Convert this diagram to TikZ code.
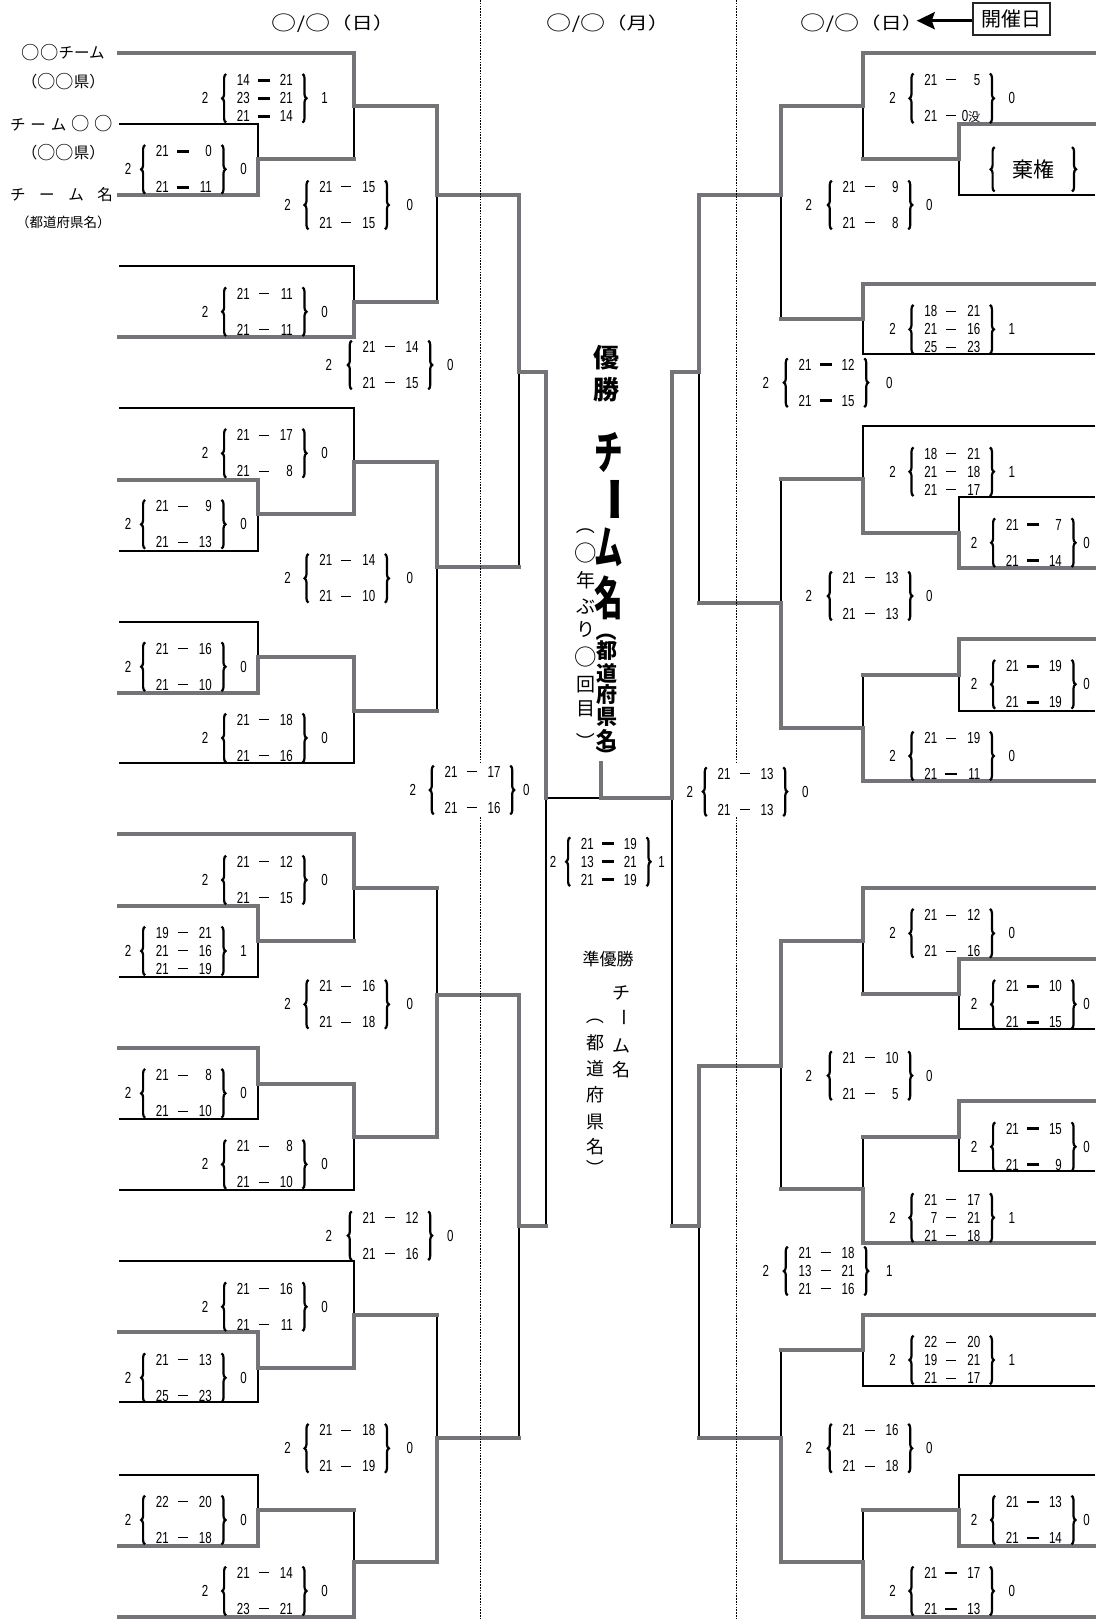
\documentclass[tikz,border=0pt]{standalone}
\usepackage{fontspec}
\usepackage{graphicx}
\newfontfamily\jp{Noto Sans CJK JP}
\newfontfamily\numf[FakeStretch=0.72]{Liberation Sans}
\usetikzlibrary{decorations.pathreplacing,arrows.meta}
\definecolor{lgray}{RGB}{116,116,120}
\newcommand\dthin{\rule[5.2pt]{10pt}{0.85pt}}
\newcommand\dthick{\rule[4.3pt]{12pt}{2.6pt}}
\newcommand\bc{\raisebox{-0.06em}{\scalebox{1.18}{○}}}
\newcommand\Rw[3]{\makebox[14pt][r]{#1}\hspace{9pt}\makebox[10pt]{#2}\hspace{10pt}\makebox[14pt][r]{#3}}
\newcommand\Two[6]{\Rw{#1}{#2}{#3}\\\Rw{}{}{}\\\Rw{#4}{#5}{#6}}
\newcommand\Three[9]{\Rw{#1}{#2}{#3}\\\Rw{#4}{#5}{#6}\\\Rw{#7}{#8}{#9}}
\newcommand\vlp{\rotatebox[origin=c]{-90}{（}}
\newcommand\vrp{\rotatebox[origin=c]{-90}{）}}
\newcommand\vbar{\rotatebox[origin=c]{-90}{ー}}
\tikzset{
  gl/.style={draw=lgray, line width=4.2pt, line join=miter, line cap=rect},
  bl/.style={draw=black, line width=1.9pt, line join=miter},
  dotl/.style={draw=black, line width=0.9pt, dash pattern=on 1.6pt off 1.2pt},
  rowsbox/.style={align=center, inner xsep=9.5pt, inner ysep=0.5pt, font=\numf\fontsize{16}{18}\selectfont},
  sidenum/.style={inner sep=0pt, font=\numf\fontsize{16}{16}\selectfont},
  brc/.style={draw=black, line width=2.2pt, decorate, decoration={brace, amplitude=4pt}},
  kkbox/.style={minimum width=77pt, minimum height=44pt, inner sep=0pt, font=\jp\fontsize{21}{21}\selectfont},
  hdr/.style={inner sep=0pt, font=\jp\fontsize{17}{17}\selectfont},
  tname/.style={inner sep=0pt, font=\jp\fontsize{15.5}{15.5}\selectfont},
  vbig/.style={inner sep=0pt, font=\jp\bfseries\fontsize{46}{46}\selectfont},
  vwin/.style={inner sep=0pt, font=\jp\bfseries\fontsize{26}{32}\selectfont, align=center},
  vmid/.style={inner sep=0pt, font=\jp\bfseries\fontsize{21}{21}\selectfont},
  vsm/.style={inner sep=0pt, font=\jp\fontsize{19}{19}\selectfont},
  vru/.style={inner sep=0pt, font=\jp\fontsize{18}{18}\selectfont},
  datebox/.style={draw=black!85, line width=1.8pt, minimum width=76.7pt, minimum height=32.3pt, inner sep=0pt, font=\jp\fontsize{20}{20}\selectfont},
  arr/.style={draw=black, line width=3.5pt, -{Stealth[length=18pt,width=17pt,inset=3pt]}}
}
\newcommand\scorelbl[7]{%
  \node[rowsbox] (#1) at (#2) {#4};
  \draw[brc] (#1.south west) -- (#1.north west);
  \draw[brc] (#1.north east) -- (#1.south east);
  \node[sidenum] (#1l) at ([xshift=-#6pt]#1.west) {#3};
  \node[sidenum] (#1r) at ([xshift=#7pt]#1.east) {#5};
}
\begin{document}
\begin{tikzpicture}[x=1pt,y=-1pt]
\fill[white] (0,0) rectangle (1095,1619);
\useasboundingbox (0,0) rectangle (1095,1619);

% ---------- black (losing) segments, left ----------
\draw[bl] (354,159) -- (354,106);
\draw[bl] (119,124) -- (258,124) -- (258,159);
\draw[bl] (437,302) -- (437,195);
\draw[bl] (119,266) -- (354,266) -- (354,302);
\draw[bl] (519,567) -- (519,372);
\draw[bl] (119,408) -- (354,408) -- (354,462);
\draw[bl] (119,551) -- (258,551) -- (258,514);
\draw[bl] (437,710.7) -- (437,567);
\draw[bl] (119,622) -- (258,622) -- (258,656.7);
\draw[bl] (119,763) -- (354,763) -- (354,710.7);
\draw[bl] (546,798) -- (601,798);
\draw[bl] (437,887.7) -- (437,995);
\draw[bl] (354,940.7) -- (354,887.7);
\draw[bl] (119,976.7) -- (258,976.7) -- (258,940.7);
\draw[bl] (546,1226) -- (546,798);
\draw[bl] (119,1119) -- (258,1119) -- (258,1084);
\draw[bl] (119,1190) -- (354,1190) -- (354,1136.7);
\draw[bl] (437,1315) -- (437,1438);
\draw[bl] (119,1261) -- (354,1261) -- (354,1315);
\draw[bl] (119,1402) -- (258,1402) -- (258,1367.7);
\draw[bl] (354,1510) -- (354,1562.3);
\draw[bl] (119,1475) -- (258,1475) -- (258,1510);
\draw[bl] (519,1438) -- (519,1226);
% ---------- black (losing) segments, right ----------
\draw[bl] (862.7,159.3) -- (862.7,106);
\draw[bl] (1095,195) -- (959.3,195) -- (959.3,159.3);
\draw[bl] (780.7,319.3) -- (780.7,195);
\draw[bl] (1095,354.3) -- (862.7,354.3) -- (862.7,319.3);
\draw[bl] (1095,426) -- (862.7,426) -- (862.7,479.3);
\draw[bl] (1095,496.7) -- (959.3,496.7) -- (959.3,532.7);
\draw[bl] (780.7,479.3) -- (780.7,603.3);
\draw[bl] (862.7,675) -- (862.7,727.7);
\draw[bl] (1095,711) -- (959.3,711) -- (959.3,675);
\draw[bl] (699,603.3) -- (699,372);
\draw[bl] (672,1226) -- (672,798);
\draw[bl] (862.7,994.3) -- (862.7,941);
\draw[bl] (1095,1029.3) -- (959.3,1029.3) -- (959.3,994.3);
\draw[bl] (862.7,1137.3) -- (862.7,1189.3);
\draw[bl] (1095,1171) -- (959.3,1171) -- (959.3,1137.3);
\draw[bl] (780.7,1189.3) -- (780.7,1065.7);
\draw[bl] (780.7,1350) -- (780.7,1438.3);
\draw[bl] (1095,1385.7) -- (862.7,1385.7) -- (862.7,1350);
\draw[bl] (1095,1475) -- (959.3,1475) -- (959.3,1510);
\draw[bl] (862.7,1510) -- (862.7,1562.3);
\draw[bl] (699,1438.3) -- (699,1226);

% ---------- gray (winning) paths, left ----------
\draw[gl] (119,52.7) -- (354,52.7) -- (354,106) -- (437,106) -- (437,195) -- (519,195) -- (519,372) -- (546,372) -- (546,798);
\draw[gl] (119,195) -- (258,195) -- (258,159) -- (354,159);
\draw[gl] (119,337) -- (354,337) -- (354,302) -- (437,302);
\draw[gl] (119,480) -- (258,480) -- (258,514) -- (354,514) -- (354,462) -- (437,462) -- (437,567) -- (519,567);
\draw[gl] (119,692.7) -- (258,692.7) -- (258,656.7) -- (354,656.7) -- (354,710.7) -- (437,710.7);
\draw[gl] (119,834) -- (354,834) -- (354,887.7) -- (437,887.7);
\draw[gl] (119,906) -- (258,906) -- (258,940.7) -- (354,940.7);
\draw[gl] (119,1047.7) -- (258,1047.7) -- (258,1084) -- (354,1084) -- (354,1136.7) -- (437,1136.7) -- (437,995) -- (519,995) -- (519,1226) -- (546,1226);
\draw[gl] (119,1332) -- (258,1332) -- (258,1367.7) -- (354,1367.7) -- (354,1315) -- (437,1315);
\draw[gl] (119,1545.7) -- (258,1545.7) -- (258,1510) -- (354,1510);
\draw[gl] (119,1616.7) -- (354,1616.7) -- (354,1562.3) -- (437,1562.3) -- (437,1438) -- (519,1438);
% ---------- gray (winning) paths, right ----------
\draw[gl] (1095,52.7) -- (862.7,52.7) -- (862.7,106) -- (780.7,106) -- (780.7,195) -- (699,195) -- (699,372) -- (672,372) -- (672,798) -- (601,798) -- (601,763);
\draw[gl] (1095,124) -- (959.3,124) -- (959.3,159.3) -- (862.7,159.3);
\draw[gl] (1095,284) -- (862.7,284) -- (862.7,319.3) -- (780.7,319.3);
\draw[gl] (1095,567.7) -- (959.3,567.7) -- (959.3,532.7) -- (862.7,532.7) -- (862.7,479.3) -- (780.7,479.3);
\draw[gl] (1095,639) -- (959.3,639) -- (959.3,675) -- (862.7,675);
\draw[gl] (1095,781) -- (862.7,781) -- (862.7,727.7) -- (780.7,727.7) -- (780.7,603.3) -- (699,603.3);
\draw[gl] (1095,888.3) -- (862.7,888.3) -- (862.7,941) -- (780.7,941) -- (780.7,1065.7) -- (699,1065.7) -- (699,1226) -- (672,1226);
\draw[gl] (1095,959.3) -- (959.3,959.3) -- (959.3,994.3) -- (862.7,994.3);
\draw[gl] (1095,1101) -- (959.3,1101) -- (959.3,1137.3) -- (862.7,1137.3);
\draw[gl] (1095,1243.3) -- (862.7,1243.3) -- (862.7,1189.3) -- (780.7,1189.3);
\draw[gl] (1095,1315) -- (862.7,1315) -- (862.7,1350) -- (780.7,1350);
\draw[gl] (1095,1545.7) -- (959.3,1545.7) -- (959.3,1510) -- (862.7,1510);
\draw[gl] (1095,1616.7) -- (862.7,1616.7) -- (862.7,1562.3) -- (780.7,1562.3) -- (780.7,1438.3) -- (699,1438.3);

% ---------- dotted day separators ----------
\draw[dotl] (480,0) -- (480,763);
\draw[dotl] (480,817) -- (480,1619);
\draw[dotl] (736.7,0) -- (736.7,763);
\draw[dotl] (736.7,817) -- (736.7,1619);

% ---------- headers ----------
\node[hdr] (d1) at (333,23) {\scalebox{1.25}[1]{\bc/\bc（日）}};
\node[hdr] (d2) at (608,23) {\scalebox{1.25}[1]{\bc/\bc（月）}};
\node[hdr] (d3) at (862,23) {\scalebox{1.25}[1]{\bc/\bc（日）}};
\node[datebox] (kaisai) at (1011.7,18.9) {開催日};
\coordinate (arrtip) at (916.7,20.7);
\draw[arr] (kaisai.west |- arrtip) -- (arrtip);

% ---------- team names (left) ----------
\node[tname] (n1) at (63.3,52.7) {\bc\bc チーム};
\node[tname] (n1p) at (63.3,81.7) {（\bc\bc 県）};
\node[tname] (n2) at (61.5,124) {\makebox[103pt][s]{チ\hfil ー\hfil ム\hfil \bc\hfil \bc}};
\node[tname] (n2p) at (63.3,152.7) {（\bc\bc 県）};
\node[tname] (n3) at (61.5,195) {\makebox[103pt][s]{チ\hfil ー\hfil ム\hfil 名}};
\node[tname, font=\jp\fontsize{13.5}{13.5}\selectfont] (n3p) at (63.3,222.7) {（都道府県名）};

% ---------- champion ----------
\node[vwin] (win) at (606.7,374) {優\\勝};
\node[vbig] (c1) at (608.3,452) {\scalebox{0.62}[1]{チ}};
\node[vbig] (c2) at (608.3,499.5) {\vbar};
\node[vbig] (c3) at (608.3,547) {\scalebox{0.62}[1]{ム}};
\node[vbig] (c4) at (608.3,598) {\scalebox{0.62}[1]{名}};
\node[vmid] (p1) at (606.7,631) {\vlp};
\node[vmid] (p2) at (606.7,651) {都};
\node[vmid] (p3) at (606.7,673) {道};
\node[vmid] (p4) at (606.7,695) {府};
\node[vmid] (p5) at (606.7,717) {県};
\node[vmid] (p6) at (606.7,739) {名};
\node[vmid] (p7) at (606.7,756) {\vrp};
\node[vsm] (q1) at (585.8,525.3) {\vlp};
\node[vsm] (q2) at (585.8,553) {\bc};
\node[vsm] (q3) at (585.8,580) {年};
\node[vsm] (q4) at (585.8,607) {ぶ};
\node[vsm] (q5) at (585.8,629) {り};
\node[vsm] (q6) at (585.8,657) {\bc};
\node[vsm] (q7) at (585.8,685) {回};
\node[vsm] (q8) at (585.8,709) {目};
\node[vsm] (q9) at (585.8,741.8) {\vrp};

% ---------- runner-up ----------
\node[vru, font=\jp\fontsize{17}{17}\selectfont] (ru) at (608,959.3) {準優勝};
\node[vru] (r1) at (621,993) {チ};
\node[vru] (r2) at (621,1017) {\vbar};
\node[vru] (r3) at (621,1045.5) {ム};
\node[vru] (r4) at (621,1070) {名};
\node[vru] (s1) at (595,1015.5) {\vlp};
\node[vru] (s2) at (595,1043) {都};
\node[vru] (s3) at (595,1069) {道};
\node[vru] (s4) at (595,1095) {府};
\node[vru] (s5) at (595,1122) {県};
\node[vru] (s6) at (595,1147) {名};
\node[vru] (s7) at (595,1168.5) {\vrp};

% ---------- scores, left ----------
\scorelbl{A1}{264.3,98.3}{2}{\Three{14}{\dthick}{21}{23}{\dthick}{21}{21}{\dthick}{14}}{1}{21}{22}
\scorelbl{A2}{183.3,169.3}{2}{\Two{21}{\dthick}{0}{21}{\dthick}{11}}{0}{17}{22}
\scorelbl{A3}{346.7,205}{2}{\Two{21}{\dthin}{15}{21}{\dthin}{15}}{0}{21}{25}
\scorelbl{A4}{264.3,311.7}{2}{\Two{21}{\dthin}{11}{21}{\dthin}{11}}{0}{21}{22}
\scorelbl{A5}{390,365}{2}{\Two{21}{\dthin}{14}{21}{\dthin}{15}}{0}{23}{22}
\scorelbl{A6}{264.3,453.3}{2}{\Two{21}{\dthin}{17}{21}{\dthin}{8}}{0}{21}{22}
\scorelbl{A7}{183.3,524.3}{2}{\Two{21}{\dthin}{9}{21}{\dthin}{13}}{0}{17}{22}
\scorelbl{A8}{346.7,578.3}{2}{\Two{21}{\dthin}{14}{21}{\dthin}{10}}{0}{21}{25}
\scorelbl{A9}{183.3,666.7}{2}{\Two{21}{\dthin}{16}{21}{\dthin}{10}}{0}{17}{22}
\scorelbl{A10}{264.3,738}{2}{\Two{21}{\dthin}{18}{21}{\dthin}{16}}{0}{21}{22}
\scorelbl{A11}{472,790}{2}{\Two{21}{\dthin}{17}{21}{\dthin}{16}}{0}{21}{16}
\scorelbl{A12}{264.3,880}{2}{\Two{21}{\dthin}{12}{21}{\dthin}{15}}{0}{21}{22}
\scorelbl{A13}{183.3,951}{2}{\Three{19}{\dthin}{21}{21}{\dthin}{16}{21}{\dthin}{19}}{1}{17}{22}
\scorelbl{A14}{346.7,1004.3}{2}{\Two{21}{\dthin}{16}{21}{\dthin}{18}}{0}{21}{25}
\scorelbl{A15}{183.3,1093.3}{2}{\Two{21}{\dthin}{8}{21}{\dthin}{10}}{0}{17}{22}
\scorelbl{A16}{264.3,1164.3}{2}{\Two{21}{\dthin}{8}{21}{\dthin}{10}}{0}{21}{22}
\scorelbl{A17}{390,1235.7}{2}{\Two{21}{\dthin}{12}{21}{\dthin}{16}}{0}{23}{22}
\scorelbl{A18}{264.3,1306.7}{2}{\Two{21}{\dthin}{16}{21}{\dthin}{11}}{0}{21}{22}
\scorelbl{A19}{183.3,1377.7}{2}{\Two{21}{\dthin}{13}{25}{\dthin}{23}}{0}{17}{22}
\scorelbl{A20}{346.7,1448.3}{2}{\Two{21}{\dthin}{18}{21}{\dthin}{19}}{0}{21}{25}
\scorelbl{A21}{183.3,1520}{2}{\Two{22}{\dthin}{20}{21}{\dthin}{18}}{0}{17}{22}
\scorelbl{A22}{264.3,1591}{2}{\Two{21}{\dthin}{14}{23}{\dthin}{21}}{0}{21}{22}
\scorelbl{FN}{608.3,861.7}{2}{\Three{21}{\dthick}{19}{13}{\dthick}{21}{21}{\dthick}{19}}{1}{17}{15}

% ---------- scores, right ----------
\scorelbl{B1}{951.7,98.3}{2}{\Two{21}{\dthin}{5}{21}{\dthin}{0{\jp\fontsize{12}{12}\selectfont 没}}}{0}{21}{22}
\node[kkbox] (KK) at (1033.3,169.3) {棄権};
\draw[brc] (KK.south west) -- (KK.north west);
\draw[brc] (KK.north east) -- (KK.south east);
\scorelbl{B2}{870,205}{2}{\Two{21}{\dthin}{9}{21}{\dthin}{8}}{0}{23}{21}
\scorelbl{B3}{951.7,329.3}{2}{\Three{18}{\dthin}{21}{21}{\dthin}{16}{25}{\dthin}{23}}{1}{21}{22}
\scorelbl{B4}{826,382.7}{2}{\Two{21}{\dthick}{12}{21}{\dthick}{15}}{0}{22}{25}
\scorelbl{B5}{951.7,471.7}{2}{\Three{18}{\dthin}{21}{21}{\dthin}{18}{21}{\dthin}{17}}{1}{21}{22}
\scorelbl{B6}{1033.3,542.7}{2}{\Two{21}{\dthick}{7}{21}{\dthick}{14}}{0}{21}{15}
\scorelbl{B7}{870,596}{2}{\Two{21}{\dthin}{13}{21}{\dthin}{13}}{0}{23}{21}
\scorelbl{B8}{1033.3,684.3}{2}{\Two{21}{\dthick}{19}{21}{\dthick}{19}}{0}{21}{15}
\scorelbl{B9}{951.7,756}{2}{\Two{21}{\dthin}{19}{21}{\dthick}{11}}{0}{21}{22}
\scorelbl{B10}{745,791.7}{2}{\Two{21}{\dthin}{13}{21}{\dthin}{13}}{0}{17}{22}
\scorelbl{B11}{951.7,933.3}{2}{\Two{21}{\dthin}{12}{21}{\dthin}{16}}{0}{21}{22}
\scorelbl{B12}{1033.3,1004.3}{2}{\Two{21}{\dthick}{10}{21}{\dthick}{15}}{0}{21}{15}
\scorelbl{B13}{870,1075.7}{2}{\Two{21}{\dthin}{10}{21}{\dthin}{5}}{0}{23}{21}
\scorelbl{B14}{1033.3,1146.7}{2}{\Two{21}{\dthick}{15}{21}{\dthick}{9}}{0}{21}{15}
\scorelbl{B15}{951.7,1217.7}{2}{\Three{21}{\dthin}{17}{7}{\dthin}{21}{21}{\dthin}{18}}{1}{21}{22}
\scorelbl{B16}{826,1271}{2}{\Three{21}{\dthin}{18}{13}{\dthin}{21}{21}{\dthin}{16}}{1}{22}{25}
\scorelbl{B17}{951.7,1360}{2}{\Three{22}{\dthin}{20}{19}{\dthin}{21}{21}{\dthin}{17}}{1}{21}{22}
\scorelbl{B18}{870,1448.3}{2}{\Two{21}{\dthin}{16}{21}{\dthin}{18}}{0}{23}{21}
\scorelbl{B19}{1033.3,1520}{2}{\Two{21}{\dthick}{13}{21}{\dthick}{14}}{0}{21}{15}
\scorelbl{B20}{951.7,1591}{2}{\Two{21}{\dthick}{17}{21}{\dthick}{13}}{0}{21}{22}
\end{tikzpicture}
\end{document}
